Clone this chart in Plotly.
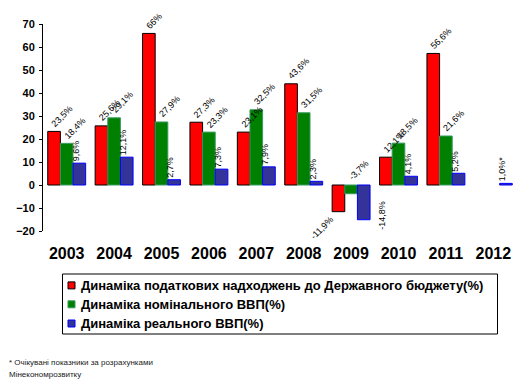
import plotly.graph_objects as go

years = ['2003', '2004', '2005', '2006', '2007', '2008', '2009', '2010', '2011', '2012']
tax = [23.3, 25.7, 65.9, 27.3, 23.0, 44.0, -11.6, 12.1, 57.2, None]
nominal = [18.1, 29.2, 27.4, 23.0, 32.7, 31.4, -3.8, 18.2, 21.3, None]
real = [9.5, 12.1, 2.3, 6.9, 7.9, 1.6, -15.1, 3.8, 5.1, 0.7]

tax_lbl = ['23,5%', '25,6%', '66%', '27,3%', '23,1%', '43,6%', '-11,9%', '12,1%', '56,6%', '']
nom_lbl = ['18,4%', '29,1%', '27,9%', '23,3%', '32,5%', '31,5%', '-3,7%', '18,5%', '21,6%', '']
real_lbl = ['9,6%', '12,1%', '2,7%', '7,3%', '7,9%', '2,3%', '-14,8%', '4,1%', '5,2%', '1,0%*']

names = ['Динаміка податкових надходжень до Державного бюджету(%)',
         'Динаміка номінального ВВП(%)',
         'Динаміка реального ВВП(%)']
footnote = ['* Очікувані показники за розрахунками', 'Мінекономрозвитку']

FONT = 'Liberation Sans, Arial, sans-serif'
fills = ['#FF0000', '#008000', '#333399']
edges = ['#000000', '#3A9A62', '#0000FF']
key_edges = ['#000000', '#3A9A62', '#0000FF']

W, H = 532, 385
ML, MR, MT, MB = 43, 15, 24, 154
PW, PH = W - ML - MR, H - MT - MB


def px(xp):
    return (xp - ML) / PW


def py(yp):
    return (H - MB - yp) / PH


fig = go.Figure()
for vals, name, fc, ec in zip([tax, nominal, real], names, fills, edges):
    fig.add_trace(go.Bar(x=years, y=vals, name=name, showlegend=False, hoverinfo='skip',
                         marker=dict(color=fc, line=dict(color=ec, width=1))))

ann = []
lblfont = dict(family=FONT, size=9, color='#000000')
for i, yr in enumerate(years):
    v, t = tax[i], tax_lbl[i]
    if v is not None and t:
        if v >= 0:
            ann.append(dict(x=i, y=v, text=t, textangle=-45, xanchor='left', yanchor='bottom',
                            xshift=-20, showarrow=False, font=lblfont))
        else:
            ann.append(dict(x=i, y=v, text=t, textangle=-45, xanchor='right', yanchor='top',
                            xshift=-13, showarrow=False, font=lblfont))
    v, t = nominal[i], nom_lbl[i]
    if v is not None and t:
        ann.append(dict(x=i, y=max(v, 0), text=t, textangle=-45, xanchor='left', yanchor='bottom',
                        xshift=-7, showarrow=False, font=lblfont))
    v, t = real[i], real_lbl[i]
    if v is not None and t:
        if v >= 0:
            ann.append(dict(x=i, y=v, text=t, textangle=-90, xanchor='center', yanchor='bottom',
                            xshift=9, showarrow=False, font=lblfont))
        else:
            ann.append(dict(x=i, y=v, text=t, textangle=-90, xanchor='left', yanchor='middle',
                            xshift=24, yshift=4, showarrow=False, font=lblfont))

# legend drawn as box, keys and text
shapes = [dict(type='rect', xref='paper', yref='paper', x0=px(62.5), x1=px(497.5),
               y0=py(334), y1=py(274), line=dict(color='#000000', width=1), fillcolor='white',
               layer='below')]
rows = [285.4, 304.3, 323.5]
for name, fc, ec, ry in zip(names, fills, key_edges, rows):
    shapes.append(dict(type='rect', xref='paper', yref='paper', x0=px(68), x1=px(75),
                       y0=py(ry + 3.5), y1=py(ry - 3.5), fillcolor=fc, line=dict(color=ec, width=1)))
    ann.append(dict(xref='paper', yref='paper', x=px(78.5), y=py(ry), text=name, showarrow=False,
                    xanchor='left', yanchor='middle',
                    font=dict(family=FONT, size=13, color='#000000', weight='bold')))

ann.append(dict(xref='paper', yref='paper', x=px(7), y=py(362), text=footnote[0], showarrow=False,
                xanchor='left', yanchor='middle', font=dict(family=FONT, size=8, color='#222222')))
ann.append(dict(xref='paper', yref='paper', x=px(7), y=py(374), text=footnote[1], showarrow=False,
                xanchor='left', yanchor='middle', font=dict(family=FONT, size=8, color='#222222')))

n = len(years)
fig.update_layout(
    width=W, height=H,
    margin=dict(l=ML, r=MR, t=MT, b=MB, autoexpand=False),
    paper_bgcolor='white', plot_bgcolor='white',
    barmode='group', bargap=0.2, bargroupgap=0,
    font=dict(family=FONT, color='#000000'),
    annotations=ann, shapes=shapes,
    showlegend=False,
    xaxis=dict(type='category', range=[-0.5, n - 0.5], showline=False, ticks='',
               showgrid=False, zeroline=False,
               tickfont=dict(family=FONT, size=16, color='#000000', weight='bold'),
               ticklabelstandoff=11),
    xaxis2=dict(overlaying='x', anchor='free', position=20 / 90, type='linear',
                range=[-0.5, n - 0.5], showline=True, linecolor='#000000', linewidth=1,
                ticks='outside', ticklen=4, tickcolor='#000000',
                tickvals=[k - 0.5 for k in range(n + 1)], showticklabels=False,
                showgrid=False, zeroline=False),
    yaxis=dict(range=[-20, 70], dtick=10, showline=True, linecolor='#000000', linewidth=1,
               ticks='outside', ticklen=3, tickcolor='#000000', showgrid=False, zeroline=False,
               tickfont=dict(family=FONT, size=11, color='#000000', weight='bold'),
               ticklabelstandoff=2),
)
fig.write_html('out.html', config={'displayModeBar': False},
               post_script="document.body.style.margin='0px';document.body.style.padding='0px';")
